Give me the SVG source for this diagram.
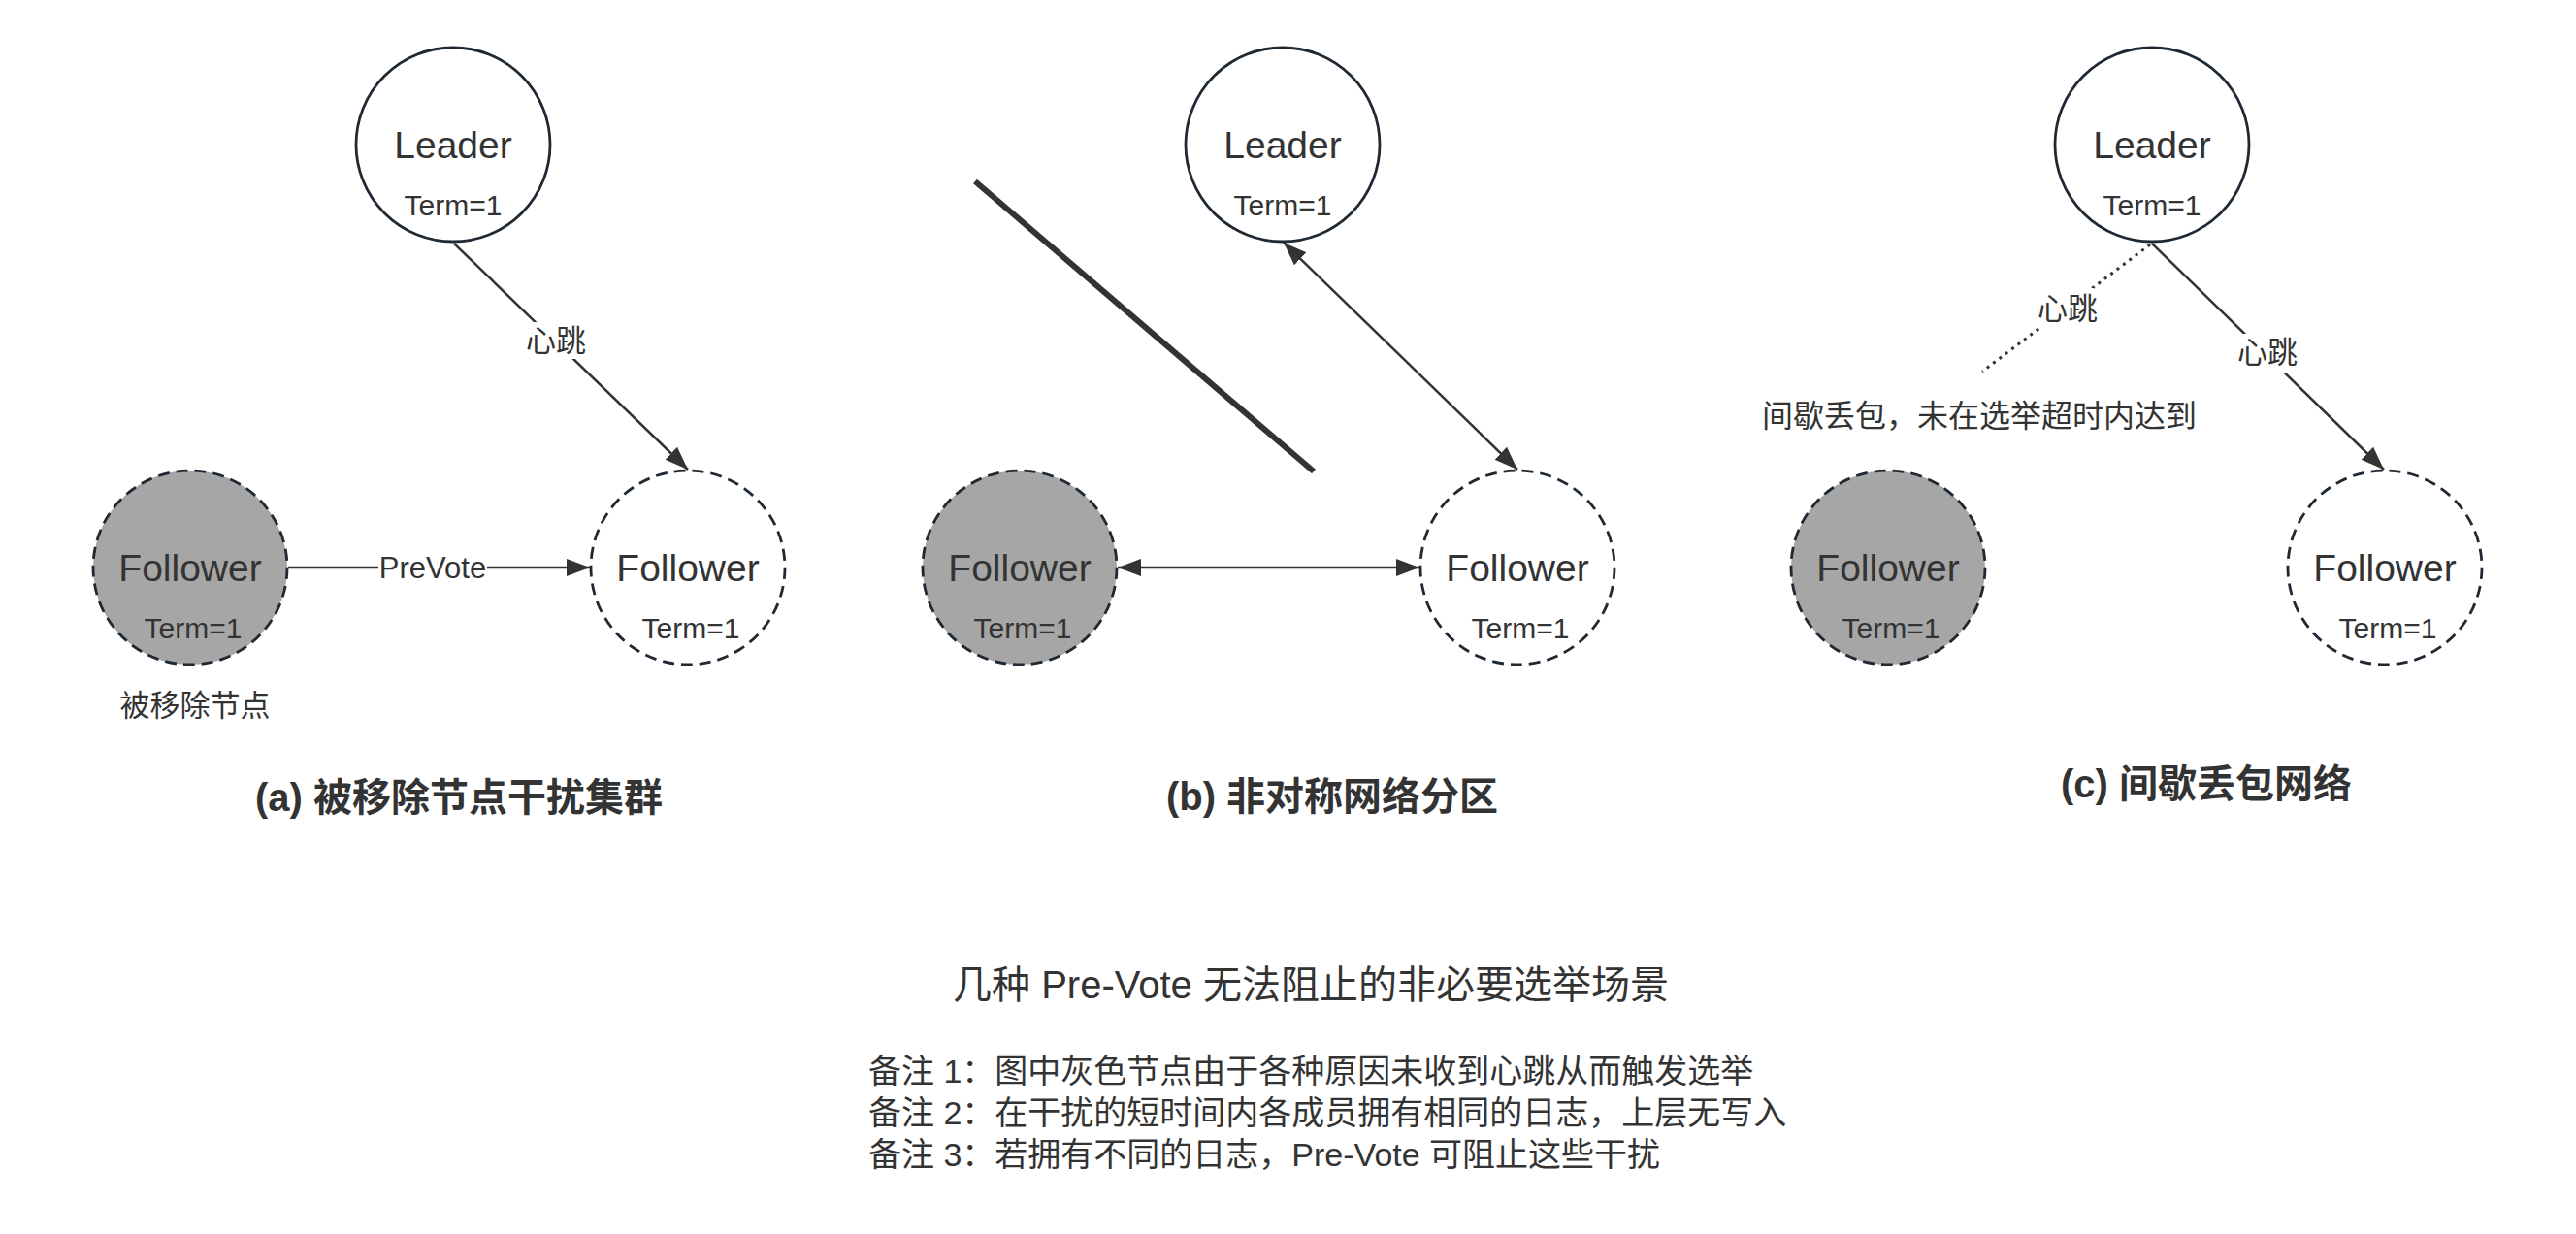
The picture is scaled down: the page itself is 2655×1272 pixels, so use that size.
<svg xmlns="http://www.w3.org/2000/svg" width="2655" height="1272" viewBox="0 0 2655 1272">
<defs>
<style>
text{font-family:"Liberation Sans","Noto Sans CJK SC",sans-serif;fill:#333}
.n{stroke:#1f2933;stroke-width:2.8}
.solid{fill:#fff}
.dash{fill:#fff;stroke-dasharray:12 7}
.gray{fill:#a6a6a6;stroke-dasharray:12 7}
.name{font-size:39px;text-anchor:middle}
.term{font-size:30px;text-anchor:middle}
.lbl{font-size:31px;text-anchor:middle}
.edge{stroke:#333;stroke-width:2.5;fill:none}
.dot{stroke-dasharray:3 5;stroke-width:3}
.bg{fill:#fff}
.title{font-size:40px;font-weight:bold;text-anchor:middle}
.note{font-size:34px}
</style>
<marker id="ah" markerUnits="userSpaceOnUse" markerWidth="26" markerHeight="20" viewBox="0 0 26 20" refX="24" refY="10" orient="auto-start-reverse">
<path d="M0,1 L24,10 L0,19 z" fill="#333"/>
</marker>
</defs>

<g id="connectors">
<!-- panel a -->
<line class="edge" x1="468" y1="251" x2="709" y2="484" marker-end="url(#ah)"/>
<rect class="bg" x="550" y="332" width="46" height="38"/>
<text class="lbl" x="573" y="362">心跳</text>
<line class="edge" x1="297" y1="585" x2="608" y2="585" marker-end="url(#ah)"/>
<rect class="bg" x="390" y="568" width="112" height="34"/>
<text class="lbl" x="446" y="596">PreVote</text>
<!-- panel b -->
<line x1="1005" y1="187" x2="1354" y2="486" stroke="#333" stroke-width="6"/>
<line class="edge" x1="1323" y1="250" x2="1564" y2="484" marker-start="url(#ah)" marker-end="url(#ah)"/>
<line class="edge" x1="1152" y1="585" x2="1463" y2="585" marker-start="url(#ah)" marker-end="url(#ah)"/>
<!-- panel c -->
<line class="edge" x1="2218" y1="251" x2="2457" y2="484" marker-end="url(#ah)"/>
<rect class="bg" x="2312" y="344" width="48" height="40"/>
<text class="lbl" x="2337" y="374">心跳</text>
<line class="edge dot" x1="2216" y1="252" x2="2043" y2="383"/>
<rect class="bg" x="2104" y="297" width="54" height="42"/>
<text class="lbl" x="2131" y="329">心跳</text>
</g>

<g id="node-a-leader">
<circle class="n solid" cx="467" cy="149" r="100"/>
<text class="name" x="467" y="163">Leader</text>
<text class="term" x="467" y="222">Term=1</text>
</g>
<g id="node-a-removed">
<circle class="n gray" cx="196" cy="585" r="100"/>
<text class="name" x="196" y="599">Follower</text>
<text class="term" x="199" y="658">Term=1</text>
</g>
<g id="node-a-follower">
<circle class="n dash" cx="709" cy="585" r="100"/>
<text class="name" x="709" y="599">Follower</text>
<text class="term" x="712" y="658">Term=1</text>
</g>
<text class="lbl" x="201" y="738">被移除节点</text>
<text class="title" x="473" y="836">(a) 被移除节点干扰集群</text>

<g id="node-b-leader">
<circle class="n solid" cx="1322" cy="149" r="100"/>
<text class="name" x="1322" y="163">Leader</text>
<text class="term" x="1322" y="222">Term=1</text>
</g>
<g id="node-b-gray">
<circle class="n gray" cx="1051" cy="585" r="100"/>
<text class="name" x="1051" y="599">Follower</text>
<text class="term" x="1054" y="658">Term=1</text>
</g>
<g id="node-b-follower">
<circle class="n dash" cx="1564" cy="585" r="100"/>
<text class="name" x="1564" y="599">Follower</text>
<text class="term" x="1567" y="658">Term=1</text>
</g>
<text class="title" x="1373" y="835">(b) 非对称网络分区</text>

<g id="node-c-leader">
<circle class="n solid" cx="2218" cy="149" r="100"/>
<text class="name" x="2218" y="163">Leader</text>
<text class="term" x="2218" y="222">Term=1</text>
</g>
<g id="node-c-gray">
<circle class="n gray" cx="1946" cy="585" r="100"/>
<text class="name" x="1946" y="599">Follower</text>
<text class="term" x="1949" y="658">Term=1</text>
</g>
<g id="node-c-follower">
<circle class="n dash" cx="2458" cy="585" r="100"/>
<text class="name" x="2458" y="599">Follower</text>
<text class="term" x="2461" y="658">Term=1</text>
</g>
<text class="lbl" x="2040" y="440" style="font-size:32px">间歇丢包，未在选举超时内达到</text>
<text class="title" x="2274" y="822">(c) 间歇丢包网络</text>

<text x="1351" y="1029" style="font-size:40px;text-anchor:middle">几种 Pre-Vote 无法阻止的非必要选举场景</text>
<text class="note" x="895" y="1116">备注 1：图中灰色节点由于各种原因未收到心跳从而触发选举</text>
<text class="note" x="895" y="1159">备注 2：在干扰的短时间内各成员拥有相同的日志，上层无写入</text>
<text class="note" x="895" y="1202">备注 3：若拥有不同的日志，Pre-Vote 可阻止这些干扰</text>
</svg>
